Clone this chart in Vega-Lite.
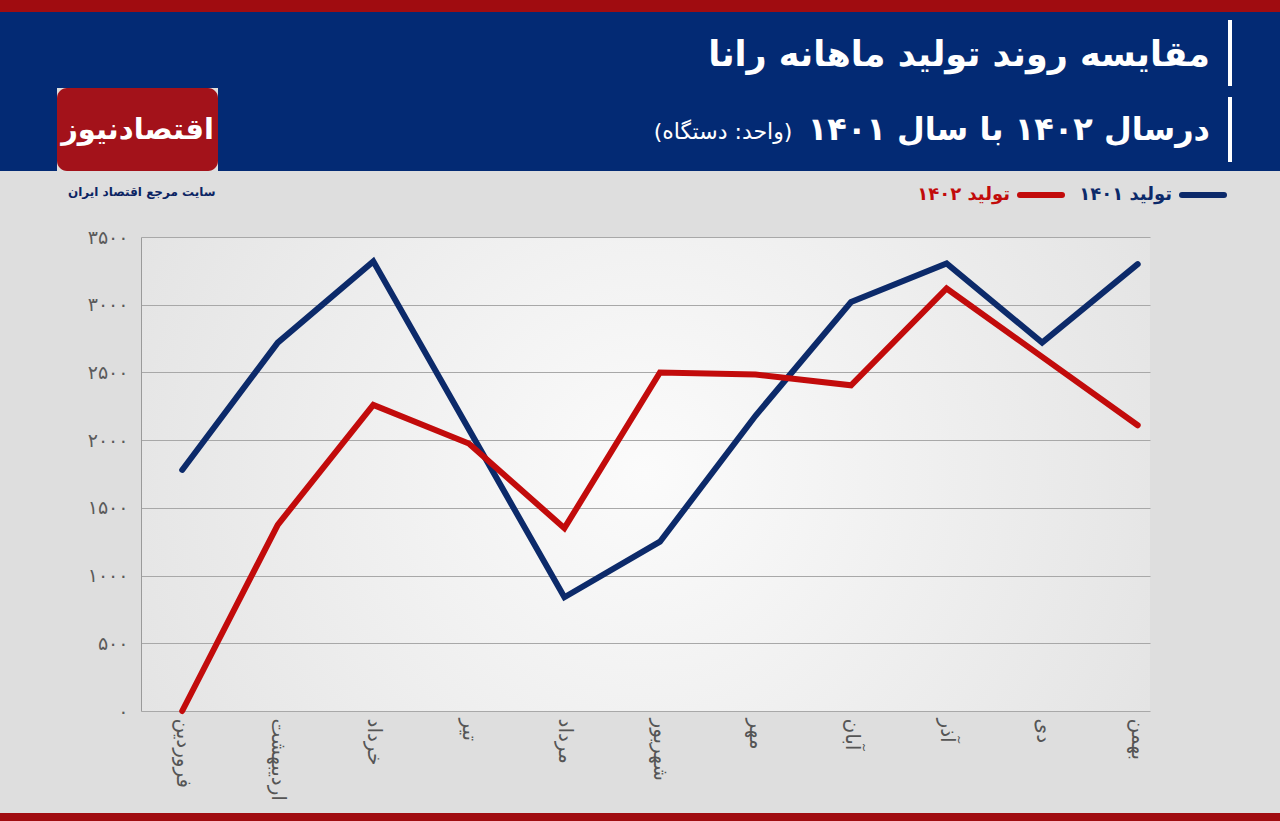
{
  "$schema": "https://vega.github.io/schema/vega-lite/v6.json",
  "background": "#dedede",
  "padding": 0,
  "spacing": 0,
  "config": {"view": {"stroke": null}, "font": "DejaVu Sans", "concat": {"spacing": 0}},
  "resolve": {"legend": {"color": "independent"}, "scale": {"color": "independent"}},
  "vconcat": [
    {"width": 1280, "height": 12, "view": {"fill": "#a00c10"}, "data": {"values": [{}]}, "mark": {"type": "text", "fontSize": 0}, "encoding": {"text": {"value": ""}}},
    {"hconcat": [
      {"width": 57, "height": 159, "view": {"fill": "#032a74"}, "data": {"values": [{}]}, "mark": {"type": "text", "fontSize": 0}, "encoding": {"text": {"value": ""}}},
      {"vconcat": [
        {"width": 161, "height": 76, "view": {"fill": "#032a74"}, "data": {"values": [{}]}, "mark": {"type": "text", "fontSize": 0}, "encoding": {"text": {"value": ""}}},
        {"width": 161, "height": 83, "view": {"fill": "#a3121a", "cornerRadius": 10},
         "data": {"values": [{"name": "اقتصادنیوز"}]},
         "mark": {"type": "text", "color": "white", "fontSize": 29, "fontWeight": "bold", "font": "DejaVu Sans"},
         "encoding": {"text": {"field": "name"}}}
      ]},
      {"vconcat": [
        {"width": 1010, "height": 80, "view": {"fill": "#032a74"},
         "title": {"text": "مقایسه روند تولید ماهانه رانا", "orient": "top", "anchor": "end", "frame": "group", "baseline": "middle", "offset": -78, "dx": -18, "fontSize": 35, "fontWeight": "bold", "color": "white", "font": "DejaVu Sans"},
         "data": {"values": [{}]}, "mark": {"type": "text", "fontSize": 0}, "encoding": {"text": {"value": ""}}},
        {"width": 1010, "height": 79, "view": {"fill": "#032a74"},
         "title": {"text": "درسال ۱۴۰۲ با سال ۱۴۰۱", "orient": "top", "anchor": "end", "frame": "group", "baseline": "middle", "offset": -70, "dx": -18, "fontSize": 32, "fontWeight": "bold", "color": "white", "font": "DejaVu Sans"},
         "data": {"values": [{"unit": "(واحد: دستگاه)"}]},
         "mark": {"type": "text", "color": "white", "fontSize": 22, "font": "DejaVu Sans"},
         "encoding": {"text": {"field": "unit"}}}
      ]},
      {"vconcat": [
        {"width": 4, "height": 8, "view": {"fill": "#032a74"}, "data": {"values": [{}]}, "mark": {"type": "text", "fontSize": 0}, "encoding": {"text": {"value": ""}}},
        {"width": 4, "height": 66, "view": {"fill": "#ffffff"}, "data": {"values": [{}]}, "mark": {"type": "text", "fontSize": 0}, "encoding": {"text": {"value": ""}}},
        {"width": 4, "height": 11, "view": {"fill": "#032a74"}, "data": {"values": [{}]}, "mark": {"type": "text", "fontSize": 0}, "encoding": {"text": {"value": ""}}},
        {"width": 4, "height": 65, "view": {"fill": "#ffffff"}, "data": {"values": [{}]}, "mark": {"type": "text", "fontSize": 0}, "encoding": {"text": {"value": ""}}},
        {"width": 4, "height": 9, "view": {"fill": "#032a74"}, "data": {"values": [{}]}, "mark": {"type": "text", "fontSize": 0}, "encoding": {"text": {"value": ""}}}
      ]},
      {"width": 48, "height": 159, "view": {"fill": "#032a74"}, "data": {"values": [{}]}, "mark": {"type": "text", "fontSize": 0}, "encoding": {"text": {"value": ""}}}
    ]},
    {"hconcat": [
      {"width": 61, "height": 474, "data": {"values": [{}]}, "mark": {"type": "text", "fontSize": 0}, "encoding": {"text": {"value": ""}}},
      {
        "width": 1009,
        "height": 474,
        "view": {"fill": {"gradient": "radial", "x1": 0.5, "y1": 0.5, "r1": 0, "x2": 0.5, "y2": 0.5, "r2": 0.6, "stops": [{"offset": 0, "color": "#fbfbfb"}, {"offset": 1, "color": "#e2e2e2"}]}},
        "title": {"text": "سایت مرجع اقتصاد ایران", "orient": "top", "anchor": "start", "frame": "group", "baseline": "middle", "offset": -33, "dx": -73, "fontSize": 12, "fontWeight": "bold", "color": "#0b2463", "font": "DejaVu Sans"},
        "data": {"values": [
          {"month": "فروردین", "series": "تولید ۱۴۰۱", "value": 1780},
          {"month": "اردیبهشت", "series": "تولید ۱۴۰۱", "value": 2720},
          {"month": "خرداد", "series": "تولید ۱۴۰۱", "value": 3320},
          {"month": "تیر", "series": "تولید ۱۴۰۱", "value": 2080},
          {"month": "مرداد", "series": "تولید ۱۴۰۱", "value": 840},
          {"month": "شهریور", "series": "تولید ۱۴۰۱", "value": 1250},
          {"month": "مهر", "series": "تولید ۱۴۰۱", "value": 2180},
          {"month": "آبان", "series": "تولید ۱۴۰۱", "value": 3020},
          {"month": "آذر", "series": "تولید ۱۴۰۱", "value": 3305},
          {"month": "دی", "series": "تولید ۱۴۰۱", "value": 2720},
          {"month": "بهمن", "series": "تولید ۱۴۰۱", "value": 3300},
          {"month": "فروردین", "series": "تولید ۱۴۰۲", "value": 0},
          {"month": "اردیبهشت", "series": "تولید ۱۴۰۲", "value": 1375},
          {"month": "خرداد", "series": "تولید ۱۴۰۲", "value": 2260},
          {"month": "تیر", "series": "تولید ۱۴۰۲", "value": 1975},
          {"month": "مرداد", "series": "تولید ۱۴۰۲", "value": 1350},
          {"month": "شهریور", "series": "تولید ۱۴۰۲", "value": 2500},
          {"month": "مهر", "series": "تولید ۱۴۰۲", "value": 2485},
          {"month": "آبان", "series": "تولید ۱۴۰۲", "value": 2405},
          {"month": "آذر", "series": "تولید ۱۴۰۲", "value": 3120},
          {"month": "دی", "series": "تولید ۱۴۰۲", "value": 2615},
          {"month": "بهمن", "series": "تولید ۱۴۰۲", "value": 2110}
        ]},
        "mark": {"type": "line", "strokeWidth": 6, "strokeCap": "round"},
        "encoding": {
          "x": {
            "field": "month", "type": "nominal",
            "scale": {"type": "point", "padding": 0.28, "align": 0.77, "domain": ["فروردین", "اردیبهشت", "خرداد", "تیر", "مرداد", "شهریور", "مهر", "آبان", "آذر", "دی", "بهمن"]},
            "axis": {"title": null, "labelAngle": 90, "labelAlign": "left", "labelBaseline": "middle", "labelPadding": 7, "ticks": false, "domain": false, "grid": false, "labelFontSize": 20, "labelColor": "#555555", "labelFont": "DejaVu Sans", "minExtent": 102, "maxExtent": 102}
          },
          "y": {
            "field": "value", "type": "quantitative",
            "scale": {"domain": [0, 3500], "nice": false},
            "axis": {"title": null, "values": [0, 500, 1000, 1500, 2000, 2500, 3000, 3500],
                     "labelExpr": "replace(replace(replace(replace(replace(format(datum.value, 'd'), /0/g, '۰'), /1/g, '۱'), /2/g, '۲'), /3/g, '۳'), /5/g, '۵')",
                     "ticks": false, "domain": true, "domainColor": "#9a9a9a", "grid": true, "gridColor": "#a8a8a8", "gridWidth": 1,
                     "labelFontSize": 19, "labelColor": "#5a5a5a", "labelFont": "DejaVu Sans", "labelPadding": 13, "minExtent": 80, "maxExtent": 80}
          },
          "color": {
            "field": "series", "type": "nominal",
            "scale": {"domain": ["تولید ۱۴۰۲", "تولید ۱۴۰۱"], "range": ["#c20b0b", "#0c2a6a"]},
            "legend": {"title": null, "orient": "none", "legendX": 876, "legendY": -66, "direction": "horizontal", "padding": 0,
                       "symbolType": "stroke", "symbolSize": 1764, "symbolStrokeWidth": 6,
                       "labelFontSize": 18, "labelFontWeight": "bold", "labelFont": "DejaVu Sans", "labelAlign": "right", "labelOffset": -55, "labelLimit": 300,
                       "columnPadding": 5,
                       "encode": {"labels": {"update": {"fill": {"signal": "datum.value == 'تولید ۱۴۰۱' ? '#0c2a6a' : '#c20b0b'"}}}, "symbols": {"update": {"strokeCap": {"value": "round"}}}}}
          }
        }
      }
    ], "resolve": {"legend": {"color": "independent"}, "scale": {"color": "independent"}}},
    {"width": 1280, "height": 8, "view": {"fill": "#a00c10"}, "data": {"values": [{}]}, "mark": {"type": "text", "fontSize": 0}, "encoding": {"text": {"value": ""}}}
  ]
}
